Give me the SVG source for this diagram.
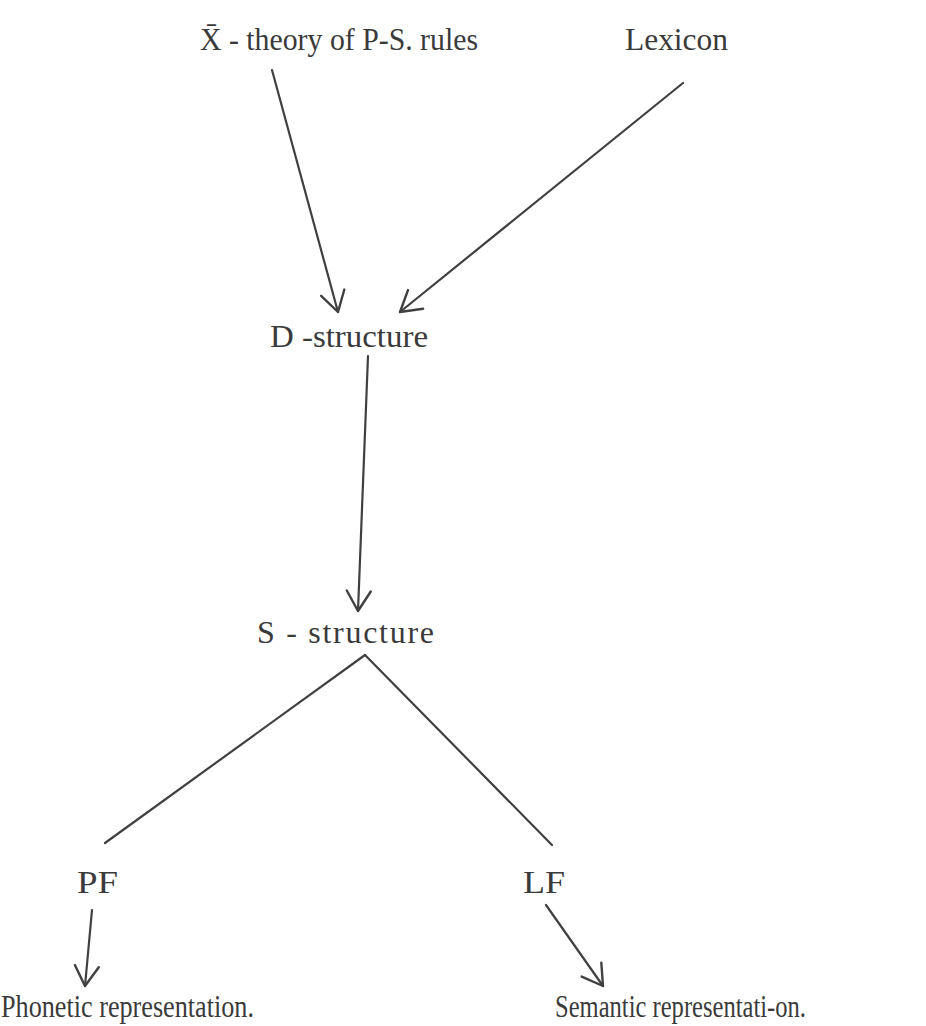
<svg xmlns="http://www.w3.org/2000/svg" width="926" height="1026" viewBox="0 0 926 1026">
<style>
.t{font-family:"Liberation Serif","Times New Roman",serif;font-size:32px;fill:#3a3a3a}
.c{stroke:#404040;stroke-width:2.2;fill:none;stroke-linecap:round}
</style>
<defs>
<marker id="ah" markerUnits="userSpaceOnUse" markerWidth="40" markerHeight="40" viewBox="-25 -20 30 40" refX="0" refY="0" orient="auto">
<path d="M-20,-12 L0,0 L-20,12" fill="none" stroke="#404040" stroke-width="2.4" stroke-linecap="round" stroke-linejoin="round"/>
</marker>
</defs>
<rect width="926" height="1026" fill="#ffffff"/>
<g id="connectors">
<line class="c" x1="272" y1="70" x2="338" y2="312" marker-end="url(#ah)"/>
<line class="c" x1="683" y1="83" x2="400" y2="312" marker-end="url(#ah)"/>
<line class="c" x1="368" y1="356" x2="358" y2="611" marker-end="url(#ah)"/>
<line class="c" x1="365" y1="655" x2="105" y2="843"/>
<line class="c" x1="365" y1="655" x2="552" y2="845"/>
<line class="c" x1="92" y1="910" x2="85" y2="986" marker-end="url(#ah)"/>
<line class="c" x1="546" y1="905" x2="603" y2="986" marker-end="url(#ah)"/>
</g>
<g id="xbar"><text class="t" x="200" y="50" style="font-size:32px" textLength="278" lengthAdjust="spacingAndGlyphs">X̄ - theory of P-S. rules</text></g>
<g id="lexicon"><text class="t" x="625" y="50" style="font-size:31px" textLength="103" lengthAdjust="spacingAndGlyphs">Lexicon</text></g>
<g id="dstructure"><text class="t" x="270" y="347" textLength="158" lengthAdjust="spacingAndGlyphs">D -structure</text></g>
<g id="sstructure"><text class="t" x="257" y="643" textLength="177" lengthAdjust="spacing">S - structure</text></g>
<g id="pf"><text class="t" x="77" y="893" textLength="41" lengthAdjust="spacingAndGlyphs">PF</text></g>
<g id="lf"><text class="t" x="523" y="893" textLength="42" lengthAdjust="spacingAndGlyphs">LF</text></g>
<g id="phonetic"><text class="t" x="1" y="1017" style="font-size:31px" textLength="253" lengthAdjust="spacingAndGlyphs">Phonetic representation.</text></g>
<g id="semantic"><text class="t" x="555" y="1017" style="font-size:31px" textLength="251" lengthAdjust="spacingAndGlyphs">Semantic representati-on.</text></g>
</svg>
